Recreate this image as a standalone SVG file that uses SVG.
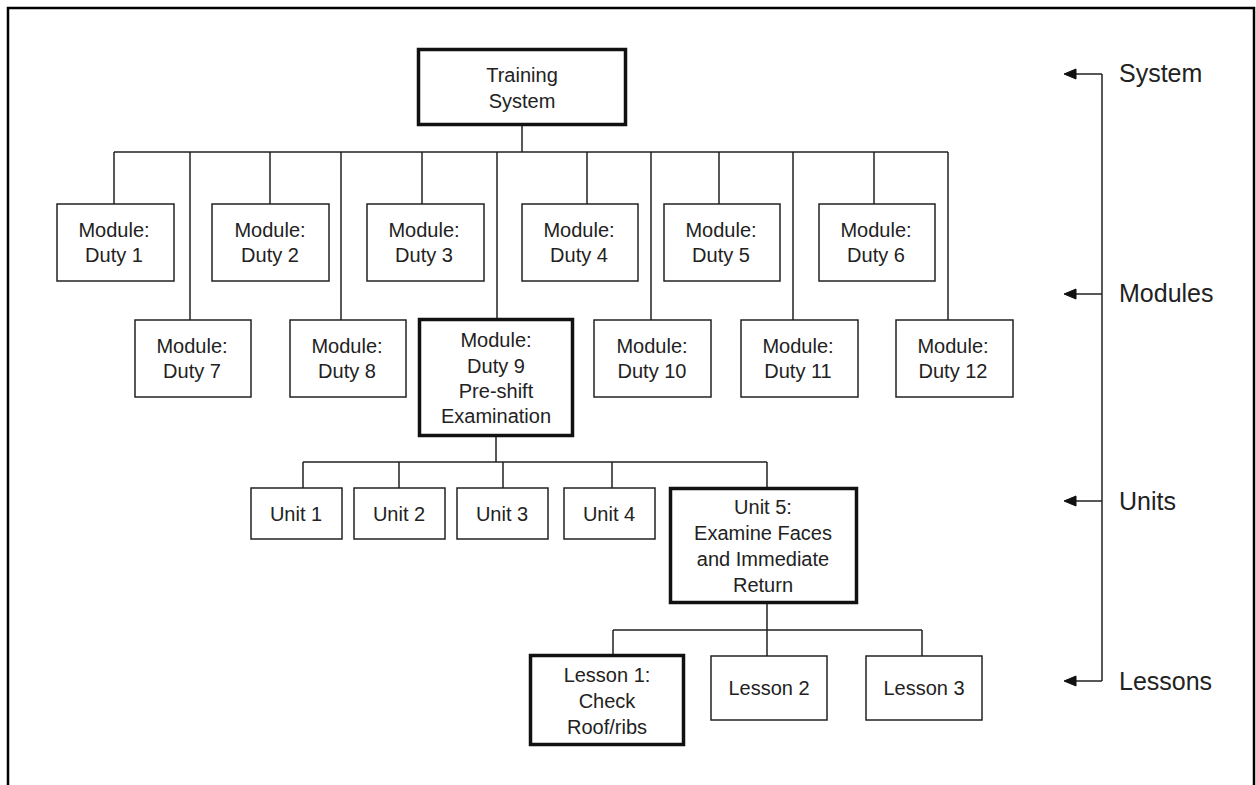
<svg xmlns="http://www.w3.org/2000/svg" width="1256" height="785" viewBox="0 0 1256 785">
  <style>
    .box { fill: #fff; stroke: #222; stroke-width: 1.5; }
    .key { fill: #fff; stroke: #111; stroke-width: 3.5; }
    .wire { fill: none; stroke: #222; stroke-width: 1.5; }
    .head { fill: #111; stroke: #111; stroke-width: 1; stroke-linejoin: round; }
    .lbl { font-family: "Liberation Sans", Arial, sans-serif; font-size: 20px; fill: #222; text-anchor: middle; }
    .lvl { font-family: "Liberation Sans", Arial, sans-serif; font-size: 25px; fill: #222; }
  </style>
  <defs>
    <path id="head" class="head" d="M0,0 L12,-5 L12,5 Z"/>
  </defs>
  <rect width="1256" height="785" fill="#fff"/>
  <!-- frame -->
  <path d="M8,785 V8 H1254 V785" fill="none" stroke="#000" stroke-width="2.5"/>

  <!-- connectors -->
  <g id="connectors">
    <g class="wire">
      <!-- system to modules -->
      <path d="M522,126 V152 M114,152 H948"/>
      <path d="M114,152 V204 M190,152 V320 M270,152 V204 M341,152 V320 M422,152 V204 M497,152 V318 M587,152 V204 M651,152 V320 M719,152 V204 M793,152 V320 M874,152 V204 M948,152 V320"/>
      <!-- duty 9 to units -->
      <path d="M496,437 V462 M303,462 H767 M303,462 V488 M399,462 V488 M503,462 V488 M612,462 V488 M767,462 V487"/>
      <!-- unit 5 to lessons -->
      <path d="M767,604 V630 M613,630 H922 M613,630 V654 M767,630 V656 M922,630 V656"/>
      <!-- level scale -->
      <path d="M1102,74 V681 M1102,74 H1072 M1102,294 H1072 M1102,501 H1072 M1102,681 H1072"/>
    </g>
    <use href="#head" x="1064" y="74"/>
    <use href="#head" x="1064" y="294"/>
    <use href="#head" x="1064" y="501"/>
    <use href="#head" x="1064" y="681"/>
  </g>

  <!-- system -->
  <g id="training-system">
    <rect class="key" x="418.5" y="49.5" width="207" height="75"/>
    <text class="lbl" x="522" y="82">Training</text>
    <text class="lbl" x="522" y="108">System</text>
  </g>

  <!-- modules, upper row -->
  <g id="duty-1"><rect class="box" x="57" y="204" width="117" height="77"/><text class="lbl" x="114" y="237">Module:</text><text class="lbl" x="114" y="262">Duty 1</text></g>
  <g id="duty-2"><rect class="box" x="212" y="204" width="117" height="77"/><text class="lbl" x="270" y="237">Module:</text><text class="lbl" x="270" y="262">Duty 2</text></g>
  <g id="duty-3"><rect class="box" x="367" y="204" width="117" height="77"/><text class="lbl" x="424" y="237">Module:</text><text class="lbl" x="424" y="262">Duty 3</text></g>
  <g id="duty-4"><rect class="box" x="522" y="204" width="116" height="77"/><text class="lbl" x="579" y="237">Module:</text><text class="lbl" x="579" y="262">Duty 4</text></g>
  <g id="duty-5"><rect class="box" x="664" y="204" width="116" height="77"/><text class="lbl" x="721" y="237">Module:</text><text class="lbl" x="721" y="262">Duty 5</text></g>
  <g id="duty-6"><rect class="box" x="819" y="204" width="116" height="77"/><text class="lbl" x="876" y="237">Module:</text><text class="lbl" x="876" y="262">Duty 6</text></g>

  <!-- modules, lower row -->
  <g id="duty-7"><rect class="box" x="135" y="320" width="116" height="77"/><text class="lbl" x="192" y="353">Module:</text><text class="lbl" x="192" y="378">Duty 7</text></g>
  <g id="duty-8"><rect class="box" x="290" y="320" width="116" height="77"/><text class="lbl" x="347" y="353">Module:</text><text class="lbl" x="347" y="378">Duty 8</text></g>
  <g id="duty-9">
    <rect class="key" x="419.5" y="319.5" width="153" height="116"/>
    <text class="lbl" x="496" y="347">Module:</text>
    <text class="lbl" x="496" y="373">Duty 9</text>
    <text class="lbl" x="496" y="398">Pre-shift</text>
    <text class="lbl" x="496" y="423">Examination</text>
  </g>
  <g id="duty-10"><rect class="box" x="594" y="320" width="117" height="77"/><text class="lbl" x="652" y="353">Module:</text><text class="lbl" x="652" y="378">Duty 10</text></g>
  <g id="duty-11"><rect class="box" x="741" y="320" width="117" height="77"/><text class="lbl" x="798" y="353">Module:</text><text class="lbl" x="798" y="378">Duty 11</text></g>
  <g id="duty-12"><rect class="box" x="896" y="320" width="117" height="77"/><text class="lbl" x="953" y="353">Module:</text><text class="lbl" x="953" y="378">Duty 12</text></g>

  <!-- units -->
  <g id="unit-1"><rect class="box" x="251" y="488" width="91" height="51"/><text class="lbl" x="296" y="521">Unit 1</text></g>
  <g id="unit-2"><rect class="box" x="354" y="488" width="91" height="51"/><text class="lbl" x="399" y="521">Unit 2</text></g>
  <g id="unit-3"><rect class="box" x="457" y="488" width="91" height="51"/><text class="lbl" x="502" y="521">Unit 3</text></g>
  <g id="unit-4"><rect class="box" x="564" y="488" width="91" height="51"/><text class="lbl" x="609" y="521">Unit 4</text></g>
  <g id="unit-5">
    <rect class="key" x="670.5" y="488.5" width="186" height="114"/>
    <text class="lbl" x="763" y="514">Unit 5:</text>
    <text class="lbl" x="763" y="540">Examine Faces</text>
    <text class="lbl" x="763" y="566">and Immediate</text>
    <text class="lbl" x="763" y="592">Return</text>
  </g>

  <!-- lessons -->
  <g id="lesson-1">
    <rect class="key" x="530.5" y="655.5" width="153" height="89"/>
    <text class="lbl" x="607" y="682">Lesson 1:</text>
    <text class="lbl" x="607" y="708">Check</text>
    <text class="lbl" x="607" y="734">Roof/ribs</text>
  </g>
  <g id="lesson-2"><rect class="box" x="711" y="656" width="116" height="64"/><text class="lbl" x="769" y="695">Lesson 2</text></g>
  <g id="lesson-3"><rect class="box" x="866" y="656" width="116" height="64"/><text class="lbl" x="924" y="695">Lesson 3</text></g>

  <!-- level names -->
  <g id="levels">
    <text class="lvl" x="1119" y="82">System</text>
    <text class="lvl" x="1119" y="302">Modules</text>
    <text class="lvl" x="1119" y="510">Units</text>
    <text class="lvl" x="1119" y="690">Lessons</text>
  </g>
</svg>
